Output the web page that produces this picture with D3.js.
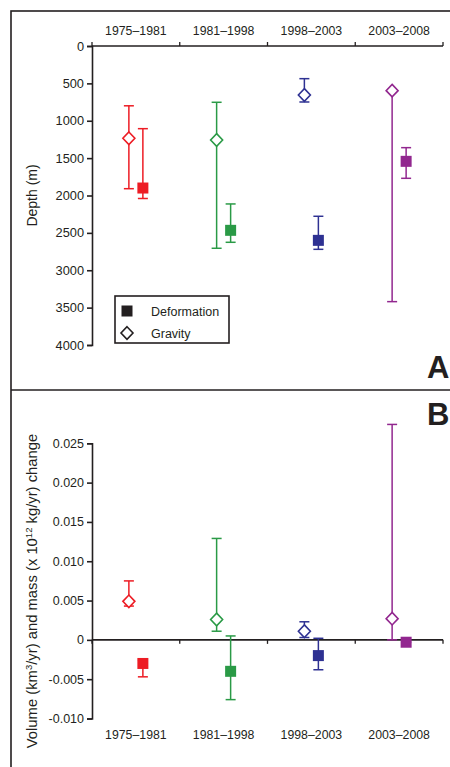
<!DOCTYPE html>
<html>
<head>
<meta charset="utf-8">
<script src="https://cdn.jsdelivr.net/npm/d3@7"></script>
<style>
  body { margin: 0; background: #fff; }
  svg { display: block; font-family: "Liberation Sans", Arial, sans-serif; }
  text { fill: #231f20; }
</style>
</head>
<body>
<div id="chart"></div>
<script>
// Chart data

const PERIODS = ["1975–1981", "1981–1998", "1998–2003", "2003–2008"];
const COLORS = ["#ed1c24", "#2a9a46", "#2e3192", "#92278f"];

// Panel A: depth (m)
const depthGravity = [1235, 1257, 655, 597];
const depthGravityTop = [800, 753, 437, 597];
const depthGravityBottom = [1909, 2706, 749, 3420];
const depthDeform = [1900, 2466, 2600, 1543];
const depthDeformTop = [1106, 2113, 2278, 1360];
const depthDeformBottom = [2040, 2626, 2720, 1770];
const depthTicks = [0, 500, 1000, 1500, 2000, 2500, 3000, 3500, 4000];

// Panel B: volume / mass change
const volGravity = [0.0049, 0.0026, 0.0011, 0.0027];
const volGravityHigh = [0.0075, 0.0129, 0.0023, 0.0274];
const volGravityLow = [0.0043, 0.0011, 0.0003, 0.0];
const volDeform = [-0.0030, -0.0040, -0.0020, -0.0003];
const volDeformHigh = [-0.0026, 0.0005, 0.0002, -0.0003];
const volDeformLow = [-0.0047, -0.0076, -0.0038, -0.0003];
const volTicks = [0.025, 0.020, 0.015, 0.010, 0.005, 0, -0.005, -0.010];

const W = 450, H = 767;
const INK = "#231f20";
const OFFSET = 7; // gravity left of band center, deformation right

const svg = d3.select("#chart").append("svg")
    .attr("width", W)
    .attr("height", H);

// outer frame + divider between panels
svg.append("rect")
    .attr("x", 11).attr("y", 11)
    .attr("width", 470).attr("height", 800)
    .attr("fill", "none").attr("stroke", INK).attr("stroke-width", 1.6);
svg.append("line")
    .attr("x1", 11).attr("x2", W + 5)
    .attr("y1", 390).attr("y2", 390)
    .attr("stroke", INK).attr("stroke-width", 1.6);

// shared x band scale
const x = d3.scaleBand()
    .domain(PERIODS)
    .range([92, 443]);

// draws one error bar (vertical line + caps)
function errorBar(g, cx, y0, y1, color) {
    g.append("line")
        .attr("x1", cx).attr("x2", cx)
        .attr("y1", y0).attr("y2", y1)
        .attr("stroke", color).attr("stroke-width", 1.5);
    [y0, y1].forEach(yy => {
        g.append("line")
            .attr("x1", cx - 5).attr("x2", cx + 5)
            .attr("y1", yy).attr("y2", yy)
            .attr("stroke", color).attr("stroke-width", 1.5);
    });
}

function diamond(g, cx, cy, color) {
    g.append("path")
        .attr("d", `M${cx},${cy - 6.3}L${cx + 6},${cy}L${cx},${cy + 6.3}L${cx - 6},${cy}Z`)
        .attr("fill", "#fff").attr("stroke", color).attr("stroke-width", 1.6);
}

function square(g, cx, cy, color) {
    g.append("rect")
        .attr("x", cx - 5.5).attr("y", cy - 5.5)
        .attr("width", 11).attr("height", 11)
        .attr("fill", color);
}

// category axis: line with ticks at band boundaries
function categoryAxis(yPos, tickDir, labelY) {
    const g = svg.append("g");
    const r = x.range();
    g.append("line")
        .attr("x1", r[0]).attr("x2", r[1])
        .attr("y1", yPos).attr("y2", yPos)
        .attr("stroke", INK).attr("stroke-width", 1.6);
    d3.range(PERIODS.length + 1).forEach(i => {
        const xx = r[0] + i * x.step();
        g.append("line")
            .attr("x1", xx).attr("x2", xx)
            .attr("y1", yPos).attr("y2", yPos + tickDir * 4)
            .attr("stroke", INK).attr("stroke-width", 1.3);
    });
    g.selectAll("text.cat")
        .data(PERIODS)
        .join("text")
        .attr("class", "cat")
        .attr("x", d => x(d) + x.bandwidth() / 2)
        .attr("y", labelY)
        .attr("text-anchor", "middle")
        .attr("font-size", 12.3)
        .text(d => d);
}

// ---------- Panel A ----------
const yA = d3.scaleLinear().domain([0, 4000]).range([46, 345]);

svg.append("g")
    .attr("transform", "translate(92,0)")
    .call(d3.axisLeft(yA).tickValues(depthTicks).tickSize(5).tickPadding(3).tickFormat(d3.format("d")))
    .call(g => g.selectAll("text").attr("font-size", 12.8).attr("font-family", null).style("fill", INK))
    .call(g => g.selectAll("line,path").attr("stroke", INK).attr("stroke-width", 1.6));

categoryAxis(46, -1, 35);

svg.append("text")
    .attr("transform", `translate(37,${(46 + 345) / 2}) rotate(-90)`)
    .attr("text-anchor", "middle")
    .attr("font-size", 14)
    .text("Depth (m)");

const gA = svg.append("g");
PERIODS.forEach((p, i) => {
    const c = x(p) + x.bandwidth() / 2;
    errorBar(gA, c - OFFSET, yA(depthGravityTop[i]), yA(depthGravityBottom[i]), COLORS[i]);
    diamond(gA, c - OFFSET, yA(depthGravity[i]), COLORS[i]);
    errorBar(gA, c + OFFSET, yA(depthDeformTop[i]), yA(depthDeformBottom[i]), COLORS[i]);
    square(gA, c + OFFSET, yA(depthDeform[i]), COLORS[i]);
});

// legend
const leg = svg.append("g");
leg.append("rect")
    .attr("x", 115).attr("y", 296)
    .attr("width", 114).attr("height", 47)
    .attr("fill", "#fff").attr("stroke", INK).attr("stroke-width", 1.6);
square(leg, 127, 311, INK);
diamond(leg, 127, 333, INK);
leg.append("text").attr("x", 151).attr("y", 315.5).attr("font-size", 12.5).text("Deformation");
leg.append("text").attr("x", 151).attr("y", 337.5).attr("font-size", 12.5).text("Gravity");

svg.append("text")
    .attr("x", 427).attr("y", 378)
    .attr("font-size", 31).attr("font-weight", "bold")
    .text("A");

// ---------- Panel B ----------
const yB = d3.scaleLinear().domain([-0.010, 0.025]).range([718.5, 443.3]);

svg.append("g")
    .attr("transform", "translate(92,0)")
    .call(d3.axisLeft(yB).tickValues(volTicks).tickSize(5).tickPadding(3)
        .tickFormat(d => d === 0 ? "0" : d3.format(".3f")(d).replace("−", "-")))
    .call(g => g.selectAll("text").attr("font-size", 12.5).attr("font-family", null).style("fill", INK))
    .call(g => g.selectAll("line,path").attr("stroke", INK).attr("stroke-width", 1.6));

categoryAxis(yB(0), 1, 739);

const yLabel = svg.append("text")
    .attr("transform", `translate(37,591) rotate(-90)`)
    .attr("text-anchor", "middle")
    .attr("font-size", 14.8);
yLabel.append("tspan").text("Volume (km");
yLabel.append("tspan").attr("dy", -5.5).attr("font-size", 9.5).text("3");
yLabel.append("tspan").attr("dy", 5.5).text("/yr) and mass (x 10");
yLabel.append("tspan").attr("dy", -5.5).attr("font-size", 9.5).text("12");
yLabel.append("tspan").attr("dy", 5.5).text(" kg/yr) change");

const gB = svg.append("g");
PERIODS.forEach((p, i) => {
    const c = x(p) + x.bandwidth() / 2;
    errorBar(gB, c - OFFSET, yB(volGravityHigh[i]), yB(volGravityLow[i]), COLORS[i]);
    diamond(gB, c - OFFSET, yB(volGravity[i]), COLORS[i]);
    errorBar(gB, c + OFFSET, yB(volDeformHigh[i]), yB(volDeformLow[i]), COLORS[i]);
    square(gB, c + OFFSET, yB(volDeform[i]), COLORS[i]);
});

svg.append("text")
    .attr("x", 427).attr("y", 425)
    .attr("font-size", 31).attr("font-weight", "bold")
    .text("B");
</script>
</body>
</html>
